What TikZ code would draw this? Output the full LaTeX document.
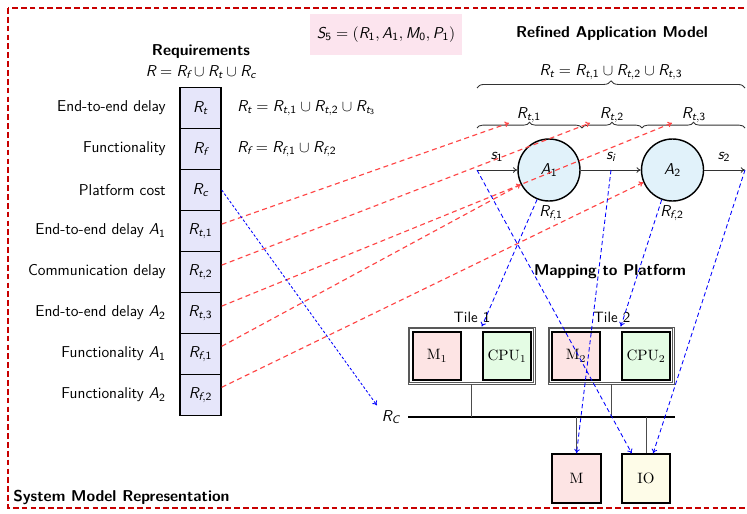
\documentclass[tikz,border=0pt]{standalone}
\usepackage{amsmath}
\renewcommand{\familydefault}{\sfdefault}
\usetikzlibrary{decorations.pathreplacing,arrows.meta}
\newcommand\mi[1]{\text{\normalfont\sffamily\itshape #1}}
\newcommand\mn[1]{\text{\normalfont\sffamily #1}}
\definecolor{reqfill}{RGB}{230,230,250}
\definecolor{spink}{RGB}{252,228,238}
\definecolor{cfill}{RGB}{225,242,250}
\definecolor{mfill}{RGB}{253,228,228}
\definecolor{cpufill}{RGB}{228,252,228}
\definecolor{iofill}{RGB}{254,252,232}
\definecolor{framered}{RGB}{200,0,0}
\definecolor{arrred}{RGB}{255,70,70}
\begin{document}
\begin{tikzpicture}[x=0.7pt,y=-0.7pt,
  every node/.style={font=\fontsize{11}{13}\selectfont},
  frame/.style={draw=framered,line width=1.4pt,dash pattern=on 4pt off 2.2pt},
  titletext/.style={font=\fontsize{11}{13}\selectfont\bfseries},
  reqbox/.style={draw=black,line width=1pt,fill=reqfill,minimum width=28.7pt,minimum height=28.7pt,inner sep=0pt},
  reqlabel/.style={anchor=east,inner sep=0pt},
  circ/.style={circle,draw=black,line width=1pt,fill=cfill,minimum size=43.4pt,inner sep=0pt},
  sig/.style={draw=black!80,line width=0.6pt,-{To[length=3pt,width=4pt]}},
  bigbrace/.style={draw=black!80,line width=0.6pt,decorate,decoration={brace,amplitude=5pt}},
  smallbrace/.style={draw=black!80,line width=0.6pt,decorate,decoration={brace,amplitude=4pt}},
  redarr/.style={draw=arrred,line width=0.8pt,dash pattern=on 3.5pt off 2.5pt,-{To[length=3pt,width=4pt]}},
  bluearr/.style={draw=blue,line width=0.6pt,dash pattern=on 3pt off 2pt,-{To[length=3pt,width=4pt]}},
  bluefine/.style={draw=blue,line width=0.6pt,dash pattern=on 1.8pt off 1.4pt,-{To[length=3pt,width=4pt]}},
  tileout/.style={draw=black!65,line width=0.6pt,minimum height=39.9pt,inner sep=0pt},
  tilein/.style={draw=black!65,line width=0.6pt,minimum height=37.5pt,inner sep=0pt},
  tilelab/.style={font=\fontsize{10.5}{12}\selectfont},
  hwbox/.style={draw=black,line width=1.3pt,minimum width=34pt,minimum height=34pt,inner sep=0pt,font=\fontsize{10.5}{12}\selectfont\rmfamily},
  bus/.style={draw=black,line width=1.6pt},
  conn/.style={draw=black!70,line width=0.6pt}
]
\useasboundingbox (0,0) rectangle (747,513);
\draw[frame] (8,8) rectangle (775,508);
\node[anchor=south west,titletext,inner sep=0pt] (sysm) at (13,505) {System Model Representation};

% S5
\node[fill=spink,minimum width=106.4pt,minimum height=28.7pt] (S5) at (386,34.5) {$\mi{S}_{\mn{5}} = (\mi{R}_{\mn1}, \mi{A}_{\mn1}, \mi{M}_{\mn0}, \mi{P}_{\mn1})$};

% Requirements
\node[titletext] (reqtitle) at (201,52) {Requirements};
\node (reqeq) at (201,72) {$\mi{R} = \mi{R}_{\mi{f}} \cup \mi{R}_{\mi{t}} \cup \mi{R}_{\mi{c}}$};

\node[reqbox] (Rt) at (200.5,108) {$\mi{R}_{\mi{t}}$};
\node[reqbox] (Rf) at (200.5,149) {$\mi{R}_{\mi{f}}$};
\node[reqbox] (Rc) at (200.5,190) {$\mi{R}_{\mi{c}}$};
\node[reqbox] (Rt1) at (200.5,231) {$\mi{R}_{\mi{t},\mn1}$};
\node[reqbox] (Rt2) at (200.5,272) {$\mi{R}_{\mi{t},\mn2}$};
\node[reqbox] (Rt3) at (200.5,313) {$\mi{R}_{\mi{t},\mn3}$};
\node[reqbox] (Rf1) at (200.5,354) {$\mi{R}_{\mi{f},\mn1}$};
\node[reqbox] (Rf2) at (200.5,395) {$\mi{R}_{\mi{f},\mn2}$};

\node[reqlabel] (lRt) at (166,108) {End-to-end delay};
\node[reqlabel] (lRf) at (166,149) {Functionality};
\node[reqlabel] (lRc) at (166,190) {Platform cost};
\node[reqlabel] (lRt1) at (166,231) {End-to-end delay $\mi{A}_{\mn1}$};
\node[reqlabel] (lRt2) at (166,272) {Communication delay};
\node[reqlabel] (lRt3) at (166,313) {End-to-end delay $\mi{A}_{\mn2}$};
\node[reqlabel] (lRf1) at (166,354) {Functionality $\mi{A}_{\mn1}$};
\node[reqlabel] (lRf2) at (166,395) {Functionality $\mi{A}_{\mn2}$};

\node[anchor=west,inner sep=0pt] (eqRt) at (237,108) {$\mi{R}_{\mi{t}} = \mi{R}_{\mi{t},\mn1} \cup \mi{R}_{\mi{t},\mn2} \cup \mi{R}_{\mi{t}_{\mn3}}$};
\node[anchor=west,inner sep=0pt] (eqRf) at (237,149) {$\mi{R}_{\mi{f}} = \mi{R}_{\mi{f},\mn1} \cup \mi{R}_{\mi{f},\mn2}$};

% Refined application model
\node[titletext] (ramtitle) at (612,33) {Refined Application Model};
\draw[bigbrace] (477,88) -- (745,88);
\node (rteq) at (611,72) {$\mi{R}_{\mi{t}} = \mi{R}_{\mi{t},\mn1} \cup \mi{R}_{\mi{t},\mn2} \cup \mi{R}_{\mi{t},\mn3}$};
\draw[smallbrace] (477,128) -- (582,128);
\draw[smallbrace] (582,128) -- (642,128);
\draw[smallbrace] (642,128) -- (745,128);
\node (lt1) at (529,115) {$\mi{R}_{\mi{t},\mn1}$};
\node (lt2) at (612,115) {$\mi{R}_{\mi{t},\mn2}$};
\node (lt3) at (694,115) {$\mi{R}_{\mi{t},\mn3}$};

\node[circ] (A1) at (549,170) {$\mi{A}_{\mn1}$};
\node[circ] (A2) at (672.5,170) {$\mi{A}_{\mn2}$};
\coordinate (s1) at (477,170);
\coordinate (si) at (611,170);
\coordinate (s2) at (745,170);
\draw[sig] (s1) -- (A1);
\draw[sig] (A1) -- (A2);
\draw[sig] (A2) -- (s2);
\node (ls1) at (497,157) {$\mi{s}_{\mn1}$};
\node (lsi) at (611,157) {$\mi{s}_{\mi{i}}$};
\node (ls2) at (724,157) {$\mi{s}_{\mn2}$};
\node (lRf1c) at (551,213) {$\mi{R}_{\mi{f},\mn1}$};
\node (lRf2c) at (672,213) {$\mi{R}_{\mi{f},\mn2}$};

% Mapping to platform
\node[titletext] (maptitle) at (610,272) {Mapping to Platform};
\node[tileout,minimum width=88.9pt] (tile1) at (471.5,355.5) {};
\node[tilein,minimum width=86.5pt] (tile1in) at (471.5,355.5) {};
\node[tileout,minimum width=88.2pt] (tile2) at (611,355.5) {};
\node[tilein,minimum width=85.8pt] (tile2in) at (611,355.5) {};
\node[tilelab] (tile1lab) at (472,317) {Tile 1};
\node[tilelab] (tile2lab) at (612,317) {Tile 2};
\node[hwbox,fill=mfill] (M1) at (437,356) {M\textsubscript{1}};
\node[hwbox,fill=cpufill] (CPU1) at (507,356) {CPU\textsubscript{1}};
\node[hwbox,fill=mfill] (M2) at (576,356) {M\textsubscript{2}};
\node[hwbox,fill=cpufill] (CPU2) at (646,356) {CPU\textsubscript{2}};
\node[hwbox,fill=mfill] (M) at (576.5,478.5) {M};
\node[hwbox,fill=iofill] (IO) at (646,478.5) {IO};

\coordinate (busL) at (408,417);
\coordinate (busR) at (675,417);
\draw[bus] (busL) -- (busR);
\node (RC) at (391,417) {$\mi{R}_{\mi{C}}$};
\draw[conn] (tile1.south) -- (tile1.south |- busL);
\draw[conn] (tile2.south) -- (tile2.south |- busL);
\draw[conn] (M.north) -- (M.north |- busL);
\draw[conn] (IO.north) -- (IO.north |- busL);

% red mapping arrows
\coordinate (t1) at (509,123);
\coordinate (t2) at (590,123);
\coordinate (t3) at (672,123);
\draw[redarr] (Rt1.18) -- (t1);
\draw[redarr] (Rt2.18) -- (t2);
\draw[redarr] (Rt3.18) -- (t3);
\draw[redarr] (Rf1.20) -- (A1.207);
\draw[redarr] (Rf2.20) -- (A2.203);

% blue mapping arrows
\draw[bluefine] (Rc.east) -- (RC.north west);
\draw[bluearr] (s1) -- ([xshift=-10pt]IO.north);
\draw[bluearr] (A1.248) -- ([yshift=3pt]CPU1.north west);
\draw[bluearr] (si) -- (M.north);
\draw[bluearr] (A2.250) -- ([yshift=3pt]CPU2.north west);
\draw[bluearr] (s2) -- ([xshift=5pt]IO.north);
\end{tikzpicture}
\end{document}
